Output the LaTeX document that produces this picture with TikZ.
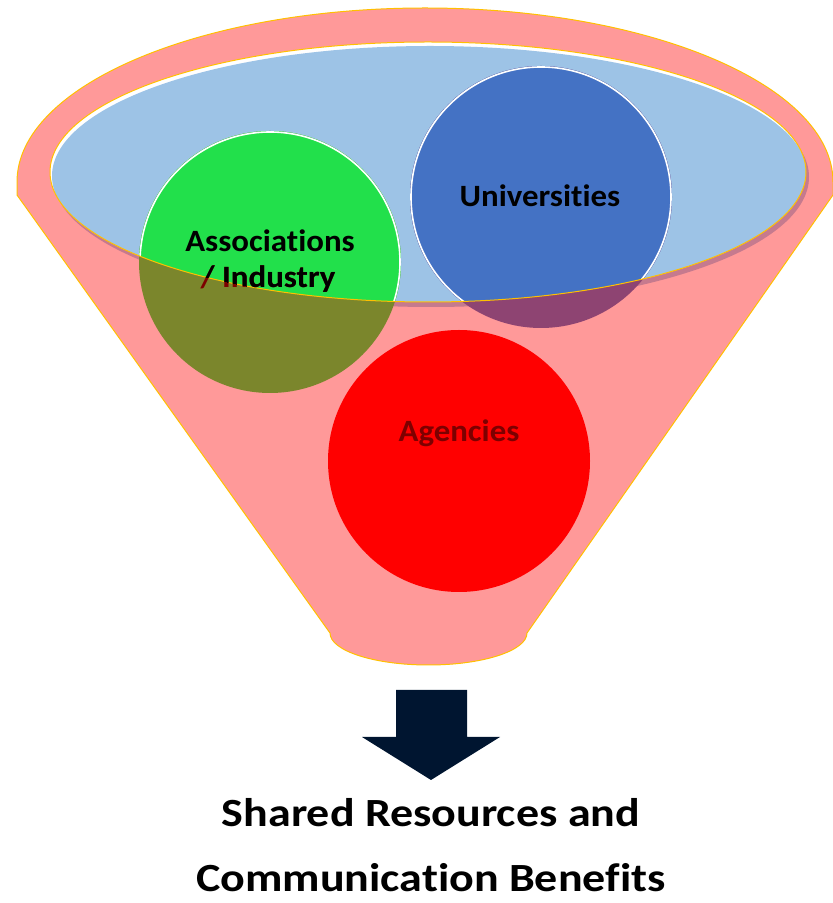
\documentclass[tikz,border=0pt]{standalone}
\usepackage{fontspec}
\setmainfont[Ligatures=NoCommon]{Carlito}
\newfontfamily\labfont[FakeStretch=1.06,Ligatures=NoCommon]{Carlito}
\newfontfamily\bigfont[FakeStretch=1.15,Ligatures=NoCommon]{Carlito}
\definecolor{funnel}{RGB}{255,153,153}
\definecolor{gold}{RGB}{255,192,0}
\definecolor{innerc}{RGB}{157,195,230}
\definecolor{shadowc}{RGB}{198,122,142}
\definecolor{grn}{RGB}{34,224,75}
\definecolor{olivec}{RGB}{123,134,44}
\definecolor{blu}{RGB}{68,114,196}
\definecolor{purp}{RGB}{142,68,114}
\definecolor{agred}{RGB}{255,0,0}
\definecolor{dkred}{RGB}{125,0,0}
\definecolor{navy}{RGB}{0,21,48}
\tikzset{
  lab/.style={font=\labfont\bfseries\fontsize{31}{36}\selectfont, inner sep=0pt, anchor=base},
  bigtxt/.style={font=\bigfont\bfseries\fontsize{40}{48}\selectfont, inner sep=0pt, anchor=base},
  rim/.style={white, line width=1.6pt}
}
\begin{document}
\begin{tikzpicture}[x=1pt,y=1pt]
\useasboundingbox (0,0) rectangle (833,903);
% funnel body
\path[fill=funnel,draw=gold,line width=1pt]
  (17,708) -- (17,721) arc[start angle=180,end angle=0,x radius=408,y radius=174]
  -- (833,708) -- (527,270) arc[start angle=0,end angle=-180,x radius=98.5,y radius=32] -- cycle;
% shadow of the inner ellipse
\fill[shadowc] (431,726) ellipse[x radius=378,y radius=130];
% inner ellipse with white highlight
\fill[white] (428,731) ellipse[x radius=378,y radius=130];
\begin{scope}
  \clip (428,731) ellipse[x radius=378,y radius=130];
  \fill[innerc] (430,727) ellipse[x radius=378,y radius=130];
\end{scope}
% circles
\coordinate (ga) at (270,641);
\coordinate (un) at (541,706);
\coordinate (ag) at (459,442);
\fill[olivec] (ga) circle[radius=131];
\fill[purp] (un) circle[radius=131];
\fill[agred] (ag) circle[radius=131];
\begin{scope}
  \clip (428,731) ellipse[x radius=378,y radius=130];
  \fill[grn] (ga) circle[radius=131];
  \draw[rim] (ga) circle[radius=130];
  \fill[blu] (un) circle[radius=131];
  \draw[rim] (un) circle[radius=130];
\end{scope}
\draw[gold,line width=1pt] (428,731) ellipse[x radius=378,y radius=130];
% labels
\node[lab] (uni) at (540,696) {Universities};
\node[lab] (asso) at (270,651) {Associations};
\node[lab,text=dkred] (ind) at (268,615) {/ Industry};
\begin{scope}
  \clip (428,731) ellipse[x radius=378,y radius=130];
  \node[lab] (ind2) at (268,615) {/ Industry};
\end{scope}
\node[lab,text=dkred] (agn) at (459,461) {Agencies};
% arrow
\fill[navy] (396,213) -- (467,213) -- (467,166) -- (500,166) -- (431,123) -- (362,166) -- (396,166) -- cycle;
% bottom text
\node[bigtxt] (t1) at (431,76) {Shared Resources and};
\node[bigtxt] (t2) at (431,11) {Communication Benefits};
\end{tikzpicture}
\end{document}
